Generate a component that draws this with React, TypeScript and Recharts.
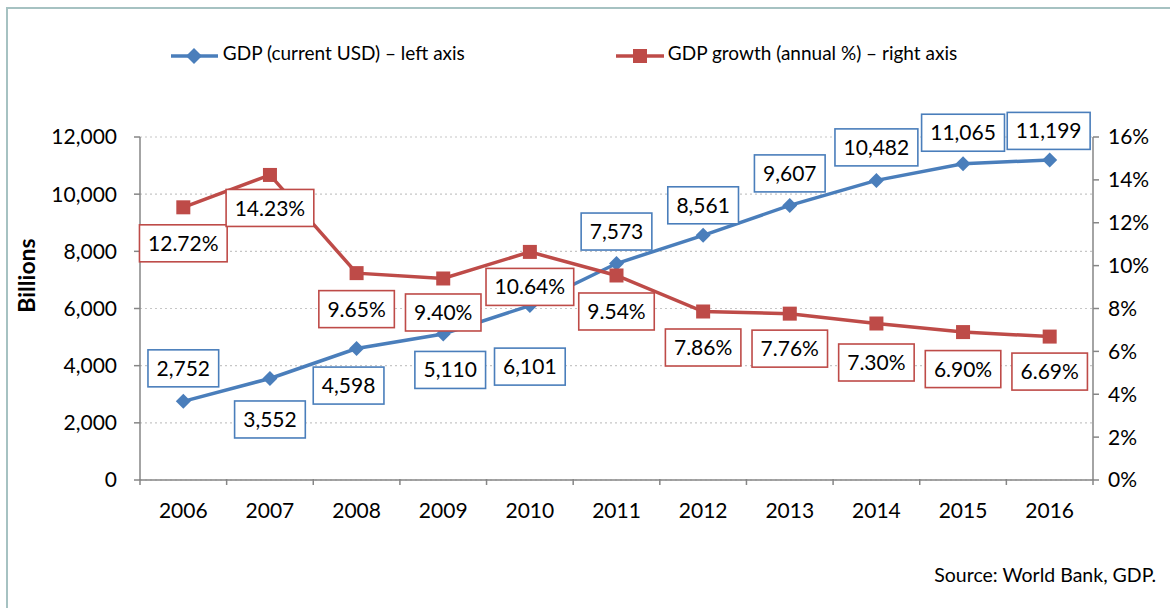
import React from 'react'
import { LineChart, Line, XAxis, YAxis, CartesianGrid, LabelList } from 'recharts'

const years = ['2006', '2007', '2008', '2009', '2010', '2011', '2012', '2013', '2014', '2015', '2016']
const gdpBillions = [2752, 3552, 4598, 5110, 6101, 7573, 8561, 9607, 10482, 11065, 11199]
const gdpGrowth = [12.72, 14.23, 9.65, 9.40, 10.64, 9.54, 7.86, 7.76, 7.30, 6.90, 6.69]
const leftTicks = [0, 2000, 4000, 6000, 8000, 10000, 12000]
const rightTicks = [0, 2, 4, 6, 8, 10, 12, 14, 16]

const gdpName = 'GDP (current USD) \u2013 left axis'
const growthName = 'GDP growth (annual %) \u2013 right axis'

// where each data label box sits relative to its point
const gdpLabelOffsets = [[0, -33], [0, 41], [-8, 37], [7, 36], [0, 61], [0, -32], [0, -30], [0, -32], [0, -33], [0, -31], [-1, -29]]
const growthLabelOffsets = [[0, 36], [0, 33], [0, 36], [0, 34], [0, 35], [0, 36], [0, 36], [0, 35], [0, 39], [0, 37], [0, 35]]

const W = 1170
const H = 608
const margin = { top: 137, right: 7, bottom: 88, left: 5 }
const leftAxisW = 135
const rightAxisW = 70
const plotW = W - margin.left - margin.right - leftAxisW - rightAxisW
const band = plotW / years.length

const BLUE = '#4a7ebb'
const RED = '#be4b48'
const FONT = 'Lato, "Noto Sans", sans-serif'
const FS = 21

const data = years.map((y, i) => ({ year: y, gdp: gdpBillions[i], growth: gdpGrowth[i] }))

function textWidth(t: string) {
  let w = 0
  for (const c of t) {
    if (c === ',' || c === '.') w += 4.9
    else if (c === '%') w += 17
    else w += 12.2
  }
  return w
}

function boxLabel(color: string, fmt: (v: number) => string, offsets: number[][]) {
  return (props: any) => {
    const { x, y, value, index } = props
    const t = fmt(value)
    const w = textWidth(t) + 17
    const [dx, dy] = offsets[index] || [0, 0]
    const cx = x + dx
    const cy = y + dy
    return (
      <g key={'lb' + index}>
        <rect x={cx - w / 2} y={cy - 18.5} width={w} height={37} fill="#fff" stroke={color} strokeWidth={1.6} />
        <text x={cx} y={cy} dy="0.36em" textAnchor="middle" fill="#000" fontSize={FS} fontFamily={FONT}>{t}</text>
      </g>
    )
  }
}

const Diamond = (props: any) => {
  const { cx, cy, index } = props
  const r = 7.5
  return <polygon key={'d' + index} points={`${cx},${cy - r} ${cx + r},${cy} ${cx},${cy + r} ${cx - r},${cy}`} fill={BLUE} />
}

const Square = (props: any) => {
  const { cx, cy, index } = props
  const s = 14
  return <rect key={'s' + index} x={cx - s / 2} y={cy - s / 2} width={s} height={s} fill={RED} />
}

const XTick = (props: any) => {
  const { x, y, payload, index } = props
  const last = index === years.length - 1
  return (
    <g>
      <line x1={x - band / 2} x2={x - band / 2} y1={y - 9} y2={y - 3} stroke="#868686" strokeWidth={1.5} />
      {last && <line x1={x + band / 2} x2={x + band / 2} y1={y - 9} y2={y - 3} stroke="#868686" strokeWidth={1.5} />}
      <text x={x} y={y + 30} textAnchor="middle" fill="#000" fontSize={FS} fontFamily={FONT}>{payload.value}</text>
    </g>
  )
}

const LegendBox = () => (
  <div style={{ position: 'absolute', top: 38, left: 0, width: W, display: 'flex', justifyContent: 'center', gap: 151, fontFamily: FONT, fontSize: 19, color: '#000', marginLeft: -21 }}>
    <div style={{ display: 'flex', alignItems: 'center' }}>
      <svg width={50} height={20} style={{ marginTop: 8 }}>
        <line x1={0} x2={47} y1={10} y2={10} stroke={BLUE} strokeWidth={3.5} />
        <polygon points="23,2 31,10 23,18 15,10" fill={BLUE} />
      </svg>
      <span style={{ marginLeft: 2 }}>{gdpName}</span>
    </div>
    <div style={{ display: 'flex', alignItems: 'center' }}>
      <svg width={50} height={20} style={{ marginTop: 8 }}>
        <line x1={0} x2={48} y1={10} y2={10} stroke={RED} strokeWidth={3.5} />
        <rect x={17} y={3} width={14} height={14} fill={RED} />
      </svg>
      <span style={{ marginLeft: 2 }}>{growthName}</span>
    </div>
  </div>
)

export default function App() {
  const pct = (v: number) => v.toFixed(2) + '%'
  const num = (v: number) => v.toLocaleString('en-US')
  return (
    <div style={{ position: 'absolute', left: 0, top: 0, width: W, height: H, overflow: 'hidden', background: '#fff' }}>
      <div style={{ position: 'absolute', left: 6, top: 7, width: W + 40, height: H + 40, border: '2px solid #a6c2c2' }} />
      <LegendBox />
      <div style={{ position: 'absolute', left: 0, top: 0 }}>
        <LineChart width={W} height={H} data={data} margin={margin}>
          <CartesianGrid vertical={false} yAxisId="left" stroke="#c6c6c6" strokeDasharray="2 3" strokeWidth={1.2} />
          <XAxis
            dataKey="year"
            tick={<XTick />}
            tickLine={false}
            axisLine={{ stroke: '#868686', strokeWidth: 1.5 }}
            padding={{ left: band / 2, right: band / 2 }}
            height={40}
            interval={0}
          />
          <YAxis
            yAxisId="left"
            width={leftAxisW}
            domain={[0, 12000]}
            ticks={leftTicks}
            tickFormatter={num}
            tick={{ fill: '#000', fontSize: FS, fontFamily: FONT }}
            tickSize={6}
            tickMargin={17}
            tickLine={{ stroke: '#868686', strokeWidth: 1.5 }}
            axisLine={{ stroke: '#868686', strokeWidth: 1.5 }}
            label={{
              value: 'Billions',
              content: (p: any) => {
                const vb = p.viewBox
                const cx = vb.x + 22
                const cy = vb.y + vb.height / 2 - 33
                return (
                  <text x={cx} y={cy} transform={`rotate(-90 ${cx} ${cy})`} textAnchor="middle" dy="0.35em" fontWeight="bold" fontSize={23} fontFamily={FONT} fill="#000">Billions</text>
                )
              },
            }}
          />
          <YAxis
            yAxisId="right"
            orientation="right"
            width={rightAxisW}
            domain={[0, 16]}
            ticks={rightTicks}
            tickFormatter={(v: number) => v + '%'}
            tick={{ fill: '#000', fontSize: FS, fontFamily: FONT, textAnchor: 'start' }}
            tickSize={6}
            tickMargin={9}
            tickLine={{ stroke: '#868686', strokeWidth: 1.5 }}
            axisLine={{ stroke: '#868686', strokeWidth: 1.5 }}
          />
          <Line yAxisId="left" dataKey="gdp" name={gdpName} stroke={BLUE} strokeWidth={3.5} dot={Diamond} activeDot={false} isAnimationActive={false} legendType="none" />
          <Line yAxisId="right" dataKey="growth" name={growthName} stroke={RED} strokeWidth={3.5} dot={Square} activeDot={false} isAnimationActive={false} legendType="none" />
          {/* label-only layers so the boxes sit above both lines */}
          <Line yAxisId="left" dataKey="gdp" stroke="none" dot={false} activeDot={false} isAnimationActive={false} legendType="none">
            <LabelList dataKey="gdp" content={boxLabel(BLUE, num, gdpLabelOffsets)} />
          </Line>
          <Line yAxisId="right" dataKey="growth" stroke="none" dot={false} activeDot={false} isAnimationActive={false} legendType="none">
            <LabelList dataKey="growth" content={boxLabel(RED, pct, growthLabelOffsets)} />
          </Line>
        </LineChart>
      </div>
      <div style={{ position: 'absolute', right: 14, top: 563, fontFamily: FONT, fontSize: 19.5, color: '#000' }}>
        Source: World Bank, GDP.
      </div>
    </div>
  )
}
